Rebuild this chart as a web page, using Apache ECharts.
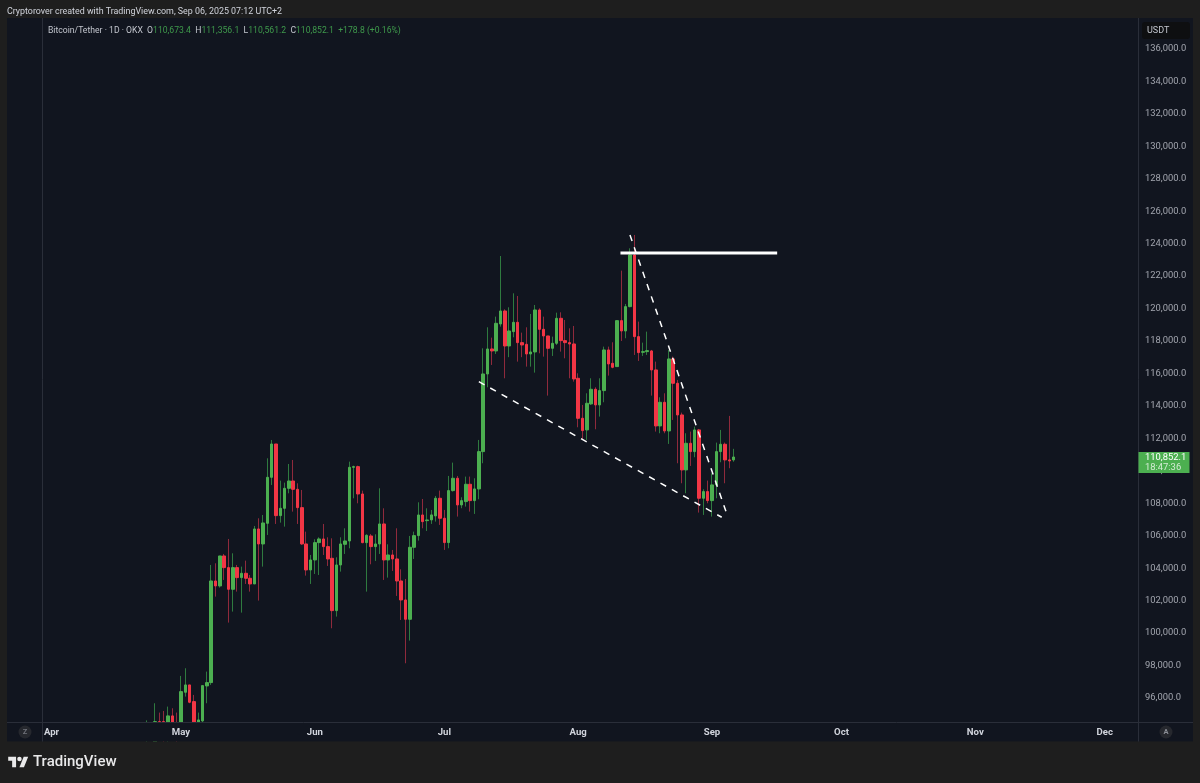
<!DOCTYPE html>
<html>
<head>
<meta charset="utf-8">
<title>Bitcoin/Tether 1D</title>
<style>
  html, body { margin: 0; padding: 0; background: #1e1e1e; }
  #chart { width: 1200px; height: 783px; }
</style>
<script src="https://cdn.jsdelivr.net/npm/echarts@6/dist/echarts.min.js"></script>
</head>
<body>
<div id="chart"></div>
<script>
// daily candles, Apr 23 - Sep 6 2025
var opens = [
  93400,92400,93000,94545,94545,93750,94895,94300,
  94443,96353,96805,95777,94443,94587,96743,96949,103213,102905,104754,104035,102700,104035,103419,103686,103378,103029,106418,105493,106767,109601,111655,107239,107691,108923,109375,108862,107732,105493,103891,
  104507,105575,105801,105329,104610,101385,104199,105473,105678,110217,110259,108574,105575,105986,105329,105493,106726,104507,104815,104569,103213,102042,100851,105288,106007,107280,106931,106975,107221,108310,
  107077,105578,108782,109542,107899,108104,109173,108165,108885,111185,115971,117512,117388,119052,119853,117696,118580,119155,117902,117799,117204,117327,119915,118723,118313,117553,117861,119401,118025,117902,117820,
  115704,113240,112521,114123,115027,114062,114945,117451,116629,116424,119258,118621,120121,123305,118272,117307,117348,117389,116218,112767,114226,112459,116896,115397,113445,110056,111699,111186,112521,108310,108721,
  108166,109132,111186,111638,110672,110673.4
];
var closes = [
  93600,93300,94545,94000,93750,94895,94280,94200,
  96394,96805,95737,94300,94648,96764,96949,103213,102905,104754,104035,102700,104035,103419,103686,103378,103029,106418,105493,106787,109601,111655,107239,107691,108923,109375,108862,107732,105493,103891,104507,
  105575,105801,105329,104569,101385,104199,105493,105678,110217,110259,108574,105575,106027,105329,105493,106726,104507,104815,104569,103213,102042,100851,105288,106007,107280,106870,106972,107283,108310,107077,
  105578,108782,109542,107899,108165,109173,108165,108885,111185,115971,117512,117388,119093,119853,117696,118621,119155,117902,117758,117204,117327,119915,118723,118313,117553,117861,119401,118025,117902,117820,115663,
  113239,112480,114164,115027,114062,114945,117451,116588,116382,119258,118621,120121,123305,118272,117286,117348,117410,116218,112767,114226,112459,116896,115397,113445,110056,111699,111186,112521,108310,108721,108166,
  109132,111186,111638,110672,110611,110852.1
];
var lows = [
  92800,91700,92800,93800,92900,92900,93900,93000,
  94100,96086,95675,94000,93800,94443,95675,96805,102248,102802,103275,100646,101324,102556,101262,103029,102556,103029,102002,104097,106048,109129,106726,106808,106561,108615,107486,106726,105432,103542,103029,
  103645,103583,104815,104138,100297,101016,103789,104877,105226,108307,108000,105534,102556,104240,104446,104877,103275,103419,103830,102289,100810,98140,99537,104569,105699,106459,106294,106728,106872,106667,
  105126,105229,108721,107180,107694,107796,107488,107345,108248,110467,115150,116526,117204,118888,115704,117006,118231,116731,117006,116423,116423,116053,117245,117039,114636,117080,117758,117347,116936,115704,115499,
  112685,111967,111905,114062,112562,113343,114226,115869,116321,116424,118005,118170,120080,117143,116773,117081,117143,114636,112418,112316,112316,111658,113137,110467,109234,108618,110302,110837,107427,107283,108002,
  107181,108310,110529,109234,110159,110561.2
];
var highs = [
  94620,94000,95675,95100,95200,95470,95367,95100,
  97360,97832,96805,96189,95100,96764,97626,104199,104302,104754,104877,105801,104918,104199,104097,104466,103583,106603,107075,107280,110772,111902,111655,109396,109273,110423,110669,109232,108821,106253,104815,
  105781,105904,106726,105904,105842,104672,105904,106459,110567,110320,110320,108780,106089,106109,106089,108923,107691,105473,105124,106459,103932,103337,105986,106253,108061,108266,107691,107591,108453,108782,
  107591,109686,110507,109686,108371,109645,109645,109542,111904,117553,118847,118210,119504,123242,119956,120079,120942,120778,118518,118847,119668,120223,120018,119504,118313,118272,119750,119771,119299,118785,118929,
  116012,114062,114780,115705,115150,115705,117656,117656,117923,119258,122339,120285,123715,124537,119197,117902,118580,117451,116732,114534,114780,117451,117040,115602,113589,112316,112418,112727,112583,108865,109399,
  109851,111740,112521,111740,113384,111356.1
];

var dayCount = 254;            // slots on the time scale, first one is Mar 30
var firstCandle = 24;          // Apr 23 sits 24 slots in
var monthNames = ['Jan','Feb','Mar','Apr','May','Jun','Jul','Aug','Sep','Oct','Nov','Dec'];
var priceTicks = [96000,98000,100000,102000,104000,106000,108000,110000,112000,114000,116000,118000,120000,122000,124000,126000,128000,130000,132000,134000,136000];

// drawings on the chart, x in day slots
var resistanceX = [133.8, 170.1], resistanceY = [123427, 123427];
var fallingX = [136.0, 158.5], fallingY = [124537, 107300];
var wedgeX = [101.0, 157.25], wedgeY = [115496, 107138];

var GREEN = '#4caf50', RED = '#f23645';
var FONT = 'Roboto';
var PANE = '#11151f', OUTER = '#1e1e1e', RULE = '#2a2e39';

var categories = [];
for (var d = 0; d < dayCount; d++) {
  var dt = new Date(Date.UTC(2025, 2, 30 + d));
  categories.push(dt.toISOString().slice(0, 10));
}

var wickData = [], bodyData = [];
for (var i = 0; i < dayCount; i++) {
  var k = i - firstCandle;
  if (k < 0 || k >= opens.length) {
    wickData.push(['-','-','-','-']);
    bodyData.push(['-','-','-','-']);
    continue;
  }
  wickData.push([opens[k], closes[k], lows[k], highs[k]]);
  bodyData.push([opens[k], closes[k], Math.min(opens[k], closes[k]), Math.max(opens[k], closes[k])]);
}

function pairs(xs, ys) {
  return xs.map(function (x, n) { return [x, ys[n]]; });
}

var chart = echarts.init(document.getElementById('chart'), null, { renderer: 'canvas' });

var option = {
  animation: false,
  backgroundColor: OUTER,
  textStyle: { fontFamily: FONT },
  grid: { left: 40.7, top: 18, width: 1096.5, height: 704, containLabel: false },
  xAxis: [{
    type: 'category',
    data: categories,
    boundaryGap: true,
    z: 6,
    axisLine: { show: false },
    axisTick: { show: false },
    splitLine: { show: false },
    axisLabel: {
      margin: 6,
      color: '#d1d4dc',
      fontSize: 9.6,
      fontWeight: 700,
      fontFamily: FONT,
      hideOverlap: false,
      interval: function (idx, val) { return val.slice(8) === '01'; },
      formatter: function (val) { return monthNames[+val.slice(5, 7) - 1]; }
    }
  }, {
    type: 'value', min: -0.5, max: dayCount - 0.5, show: false
  }],
  yAxis: [{
    type: 'value',
    position: 'right',
    min: 94520,
    max: 137910,
    scale: true,
    splitLine: { show: false },
    axisTick: { show: false },
    axisLine: { show: false, onZero: false },
    axisLabel: {
      customValues: priceTicks,
      margin: 7.8,
      color: '#a3a6af',
      fontSize: 9.4,
      fontFamily: FONT,
      formatter: function (v) { return v.toLocaleString('en-US', { minimumFractionDigits: 1 }); }
    }
  }],
  series: [{
    type: 'candlestick',
    name: 'wicks',
    data: wickData,
    barWidth: 1,
    z: 2,
    itemStyle: { color: '#2f7a3f', color0: '#8f2a3c', borderColor: '#2f7a3f', borderColor0: '#8f2a3c', borderWidth: 1 }
  }, {
    type: 'candlestick',
    name: 'bodies',
    data: bodyData,
    barWidth: 3,
    z: 3,
    itemStyle: { color: GREEN, color0: RED, borderColor: GREEN, borderColor0: RED, borderWidth: 1 }
  }, {
    type: 'line', xAxisIndex: 1, data: pairs(resistanceX, resistanceY), symbol: 'none', z: 5,
    lineStyle: { color: '#ffffff', width: 3 }
  }, {
    type: 'line', xAxisIndex: 1, data: pairs(fallingX, fallingY), symbol: 'none', z: 5,
    lineStyle: { color: '#ffffff', width: 1.5, type: [6.5, 6.5] }
  }, {
    type: 'line', xAxisIndex: 1, data: pairs(wedgeX, wedgeY), symbol: 'none', z: 5,
    lineStyle: { color: '#ffffff', width: 1.5, type: [6.5, 6.5] }
  }]
};
chart.setOption(option);

var lastClose = closes[closes.length - 1];
var tagY = chart.convertToPixel({ yAxisIndex: 0 }, lastClose);

chart.setOption({
  graphic: [
    // chart pane behind the grid
    { type: 'rect', z: -10, shape: { x: 7, y: 18, width: 1186, height: 723.5 }, style: { fill: PANE } },
    // candlesticks do not clip their wicks, so cover what runs under the time scale
    { type: 'rect', z: 4, shape: { x: 7, y: 722.5, width: 1186, height: 19 }, style: { fill: PANE } },
    { type: 'rect', z: 4, shape: { x: 0, y: 741.5, width: 1200, height: 41.5 }, style: { fill: OUTER } },
    // pane rules
    { type: 'line', z: 6, shape: { x1: 7, y1: 722.5, x2: 1193, y2: 722.5 }, style: { stroke: RULE, lineWidth: 1 } },
    { type: 'line', z: 6, shape: { x1: 42.5, y1: 18, x2: 42.5, y2: 741.5 }, style: { stroke: RULE, lineWidth: 1 } },
    { type: 'line', z: 6, shape: { x1: 1138.5, y1: 18, x2: 1138.5, y2: 741.5 }, style: { stroke: RULE, lineWidth: 1 } },
    // top credit line and symbol legend
    { type: 'text', z: 20, x: 7, y: 12, style: {
      text: 'Cryptorover created with TradingView.com, Sep 06, 2025 07:12 UTC+2',
      fill: '#d1d4dc', font: '8.9px ' + FONT, verticalAlign: 'middle' } },
    { type: 'text', z: 20, x: 48, y: 31, style: {
      text: '{n|Bitcoin/Tether · 1D · OKX  O}{v|110,673.4}{n|  H}{v|111,356.1}{n|  L}{v|110,561.2}{n|  C}{v|110,852.1  +178.8 (+0.16%)}',
      verticalAlign: 'middle',
      rich: {
        n: { fill: '#c3c6ce', font: '8.65px ' + FONT },
        v: { fill: '#3f9a4c', font: '8.65px ' + FONT }
      } } },
    // currency box on the price scale
    { type: 'rect', z: 20, shape: { x: 1142, y: 22, width: 48, height: 17, r: 3 }, style: { fill: '#0e0f11' } },
    { type: 'text', z: 21, x: 1147, y: 30.5, style: { text: 'USDT', fill: '#c3c6ce', font: '9px ' + FONT, verticalAlign: 'middle' } },
    // last price tag
    { type: 'rect', z: 20, shape: { x: 1138.5, y: tagY - 5, width: 51, height: 21 }, style: { fill: GREEN } },
    { type: 'text', z: 21, x: 1145, y: tagY + 0.5, style: { text: '110,852.1', fill: '#ffffff', font: '9.4px ' + FONT, verticalAlign: 'middle' } },
    { type: 'text', z: 21, x: 1145, y: tagY + 10.5, style: { text: '18:47:36', fill: '#d4ecd5', font: '9.4px ' + FONT, verticalAlign: 'middle' } },
    // Z and A buttons
    { type: 'circle', z: 20, shape: { cx: 25, cy: 732, r: 6.5 }, style: { fill: '#26282e' } },
    { type: 'text', z: 21, x: 25, y: 732, style: { text: 'Z', fill: '#70737b', font: '700 7.5px ' + FONT, align: 'center', verticalAlign: 'middle' } },
    { type: 'circle', z: 20, shape: { cx: 1166, cy: 732, r: 6.5 }, style: { fill: '#26282e' } },
    { type: 'text', z: 21, x: 1166, y: 732, style: { text: 'A', fill: '#8a8d95', font: '700 7.5px ' + FONT, align: 'center', verticalAlign: 'middle' } },
    // footer logo
    { type: 'group', x: 8.2, y: 754.3, scaleX: 0.563, scaleY: 0.589, children: [
      { type: 'polygon', z: 20, shape: { points: [[14,22],[7,22],[7,11],[0,11],[0,4],[14,4]] }, style: { fill: '#e9e9ea' } },
      { type: 'polygon', z: 20, shape: { points: [[28,22],[20,22],[27.5,4],[35.5,4]] }, style: { fill: '#e9e9ea' } },
      { type: 'circle', z: 20, shape: { cx: 20, cy: 8, r: 4 }, style: { fill: '#e9e9ea' } }
    ] },
    { type: 'text', z: 20, x: 33, y: 762, style: { text: 'TradingView', fill: '#e9e9ea', font: '500 15px ' + FONT, verticalAlign: 'middle' } }
  ]
});

window.addEventListener('resize', function () { chart.resize(); });
</script>
</body>
</html>
